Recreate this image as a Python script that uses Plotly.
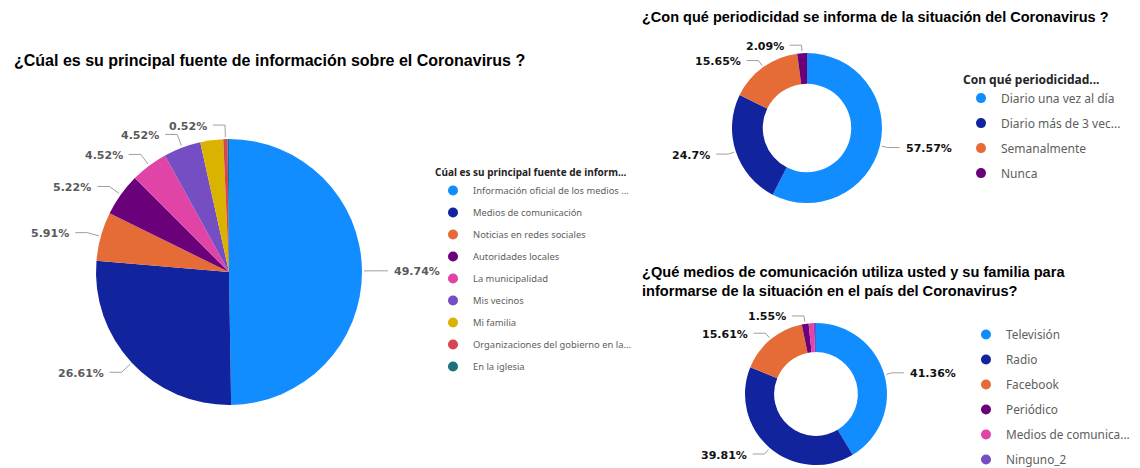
import math
import plotly.graph_objects as go

W, H = 1140, 468
OFF = 8  # page body margin in the browser

# ---------------- data ----------------
fuente_labels = ["Información oficial de los medios ...", "Medios de comunicación",
                 "Noticias en redes sociales", "Autoridades locales", "La municipalidad",
                 "Mis vecinos", "Mi familia", "Organizaciones del gobierno en la...",
                 "En la iglesia"]
fuente_values = [49.74, 26.61, 5.91, 5.22, 4.52, 4.52, 2.78, 0.52, 0.17]
fuente_shown = [True, True, True, True, True, True, False, True, False]

period_labels = ["Diario una vez al día", "Diario más de 3 vec...", "Semanalmente", "Nunca"]
period_values = [57.57, 24.7, 15.65, 2.09]
period_shown = [True, True, True, True]

medios_labels = ["Televisión", "Radio", "Facebook", "Periódico",
                 "Medios de comunica...", "Ninguno_2"]
medios_values = [41.36, 39.81, 15.61, 1.55, 1.17, 0.50]
medios_shown = [True, True, True, True, False, False]

palette = ["#118DFF", "#12239E", "#E66C37", "#6B007B", "#E044A7",
           "#744EC2", "#D9B300", "#D64550", "#197278"]

title_left = "¿Cúal es su principal fuente de información sobre el Coronavirus ?"
title_top = "¿Con qué periodicidad se informa de la situación del Coronavirus ?"
title_bottom = ("¿Qué medios de comunicación utiliza usted y su familia para<br>"
                "informarse de la situación en el país del Coronavirus?")

# ---------------- layout helpers ----------------
def px_x(x):
    return (x - OFF) / W

def px_y(y):
    return 1 - (y - OFF) / H

fig = go.Figure()
shapes = []
annotations = []

def add_pie(labels, values, shown, cx, cy, r, hole, legend_name, label_color, ext):
    fig.add_trace(go.Pie(
        labels=labels, values=values, sort=False, direction="clockwise", rotation=0,
        hole=hole, textinfo="none", hoverinfo="skip", showlegend=False,
        marker=dict(colors=palette[:len(values)], line=dict(width=0)),
        domain=dict(x=[px_x(cx - r), px_x(cx + r)], y=[px_y(cy + r), px_y(cy - r)]),
    ))
    total = sum(values)
    cum = 0.0
    for v, s in zip(values, shown):
        mid = (cum + v / 2) / total
        cum += v
        if not s:
            continue
        ang = 2 * math.pi * mid
        ux, uy = math.sin(ang), -math.cos(ang)
        x0, y0 = cx + (r + 2) * ux, cy + (r + 2) * uy
        x1, y1 = cx + (r + ext) * ux, cy + (r + ext) * uy
        side = 1 if ux >= 0 else -1
        x2 = x1 + side * 12
        for (a, b, c, d) in [(x0, y0, x1, y1), (x1, y1, x2, y1)]:
            shapes.append(dict(type="line", xref="paper", yref="paper",
                               x0=px_x(a), y0=px_y(b), x1=px_x(c), y1=px_y(d),
                               line=dict(color="#A19F9D", width=1)))
        annotations.append(dict(
            text=f"<b>{v:g}%</b>", xref="paper", yref="paper",
            x=px_x(x2 + side * 4), y=px_y(y1 + 1), showarrow=False,
            xanchor="left" if side > 0 else "right", yanchor="middle",
            font=dict(family="DejaVu Sans", size=11, color=label_color)))
    for lab, col in zip(labels, palette):
        fig.add_trace(go.Scatter(
            x=[None], y=[None], mode="markers", name=lab, legend=legend_name,
            legendgroup=legend_name + lab, hoverinfo="skip",
            marker=dict(color=col, size=10, symbol="circle")))

add_pie(fuente_labels, fuente_values, fuente_shown, 229, 272, 133, 0,
        "legend", "#5A5A5A", 14)
add_pie(period_labels, period_values, period_shown, 807, 128, 75, 0.59,
        "legend2", "#111111", 8)
add_pie(medios_labels, medios_values, medios_shown, 816, 394, 71, 0.59,
        "legend3", "#111111", 8)

for txt, x, y, size in [(title_left, 12, 60, 16), (title_top, 640, 17, 14.5),
                        (title_bottom, 640, 281, 14.6)]:
    annotations.append(dict(
        text=f"<b>{txt}</b>", xref="paper", yref="paper", x=px_x(x), y=px_y(y),
        xanchor="left", yanchor="middle", align="left", showarrow=False,
        font=dict(family="Liberation Sans", size=size, color="#000000")))

legend_font = dict(family="Noto Sans", color="#605E5C")
title_font = dict(family="Noto Sans", color="#252423", weight="bold")

fig.update_layout(
    width=W, height=H, margin=dict(l=0, r=0, t=0, b=0),
    paper_bgcolor="white", plot_bgcolor="white",
    xaxis=dict(visible=False), yaxis=dict(visible=False),
    shapes=shapes, annotations=annotations,
    legend=dict(x=px_x(433), y=px_y(163), xanchor="left", yanchor="top",
                font=dict(size=9.4, **legend_font), tracegroupgap=3,
                title=dict(text="Cúal es su principal fuente de inform...",
                           font=dict(size=10, **title_font)),
                bgcolor="rgba(0,0,0,0)"),
    legend2=dict(x=px_x(961), y=px_y(68), xanchor="left", yanchor="top",
                 font=dict(size=12, **legend_font), tracegroupgap=6,
                 title=dict(text="Con qué periodicidad...",
                            font=dict(size=12, **title_font)),
                 bgcolor="rgba(0,0,0,0)"),
    legend3=dict(x=px_x(966), y=px_y(320), xanchor="left", yanchor="top",
                 font=dict(size=11.8, **legend_font), tracegroupgap=6,
                 bgcolor="rgba(0,0,0,0)"),
)

fig.write_html("out.html", config={"displayModeBar": False})
